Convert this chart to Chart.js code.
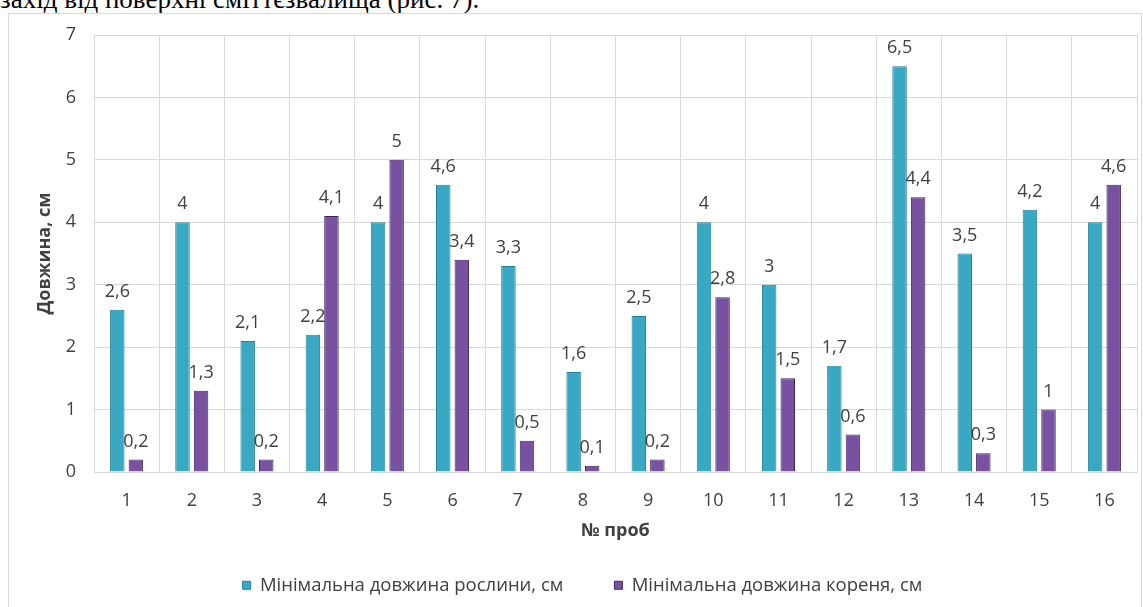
<!DOCTYPE html>
<html>
<head>
<meta charset="utf-8">
<script src="https://cdn.jsdelivr.net/npm/chart.js@4"></script>
<style>
  body { margin: 0; background: #fff; overflow: hidden; width: 1143px; height: 607px; position: relative; }
  .caption { position: absolute; left: 0; top: -14px; font: 27px/27px "Liberation Serif", serif; color: #000; white-space: nowrap; }
  .frame { position: absolute; left: 8px; top: 13px; width: 1132px; height: 620px; border: 1px solid #d9d9d9; }
  .chart-box { position: absolute; left: 9px; top: 14px; width: 1131px; height: 593px; }
</style>
</head>
<body>
<div class="caption">захід від поверхні сміттєзвалища (рис. 7).</div>
<div class="frame"></div>
<div class="chart-box"><canvas id="chart"></canvas></div>
<script>
// samples
const samples = ['1','2','3','4','5','6','7','8','9','10','11','12','13','14','15','16'];

// min plant length, cm
const plantLen = [2.6, 4, 2.1, 2.2, 4, 4.6, 3.3, 1.6, 2.5, 4, 3, 1.7, 6.5, 3.5, 4.2, 4];

// min root length, cm
const rootLen = [0.2, 1.3, 0.2, 4.1, 5, 3.4, 0.5, 0.1, 0.2, 2.8, 1.5, 0.6, 4.4, 0.3, 1, 4.6];

const FONT = '"Open Sans", sans-serif';
const TEXT = '#404040';

// value labels above bars, comma decimals
const barLabels = {
    id: 'barLabels',
    afterDatasetsDraw(chart) {
        const ctx = chart.ctx;
        ctx.save();
        ctx.font = '18px ' + FONT;
        ctx.fillStyle = TEXT;
        ctx.textAlign = 'center';
        ctx.textBaseline = 'middle';
        chart.data.datasets.forEach((ds, i) => {
            chart.getDatasetMeta(i).data.forEach((bar, j) => {
                const txt = String(ds.data[j]).replace('.', ',');
                ctx.fillText(txt, bar.x, bar.y - 18);
            });
        });
        ctx.restore();
    }
};

// legend is wide spaced, so move it into its spot after layout
const legendSpot = {
    id: 'legendSpot',
    afterLayout(chart) {
        const lg = chart.legend;
        lg.top = 511;
        lg.bottom = chart.height;
        lg.left = 19;
    }
};

new Chart(document.getElementById('chart'), {
    type: 'bar',
    data: {
        labels: samples,
        datasets: [
            {
                label: 'Мінімальна довжина рослини, см',
                data: plantLen,
                backgroundColor: '#39a8c3',
                borderColor: '#237f96',
                borderWidth: 1
            },
            {
                label: 'Мінімальна довжина кореня, см',
                data: rootLen,
                backgroundColor: '#7852a0',
                borderColor: '#3e2560',
                borderWidth: 1
            }
        ]
    },
    options: {
        responsive: true,
        maintainAspectRatio: false,
        animation: false,
        categoryPercentage: 0.57,
        barPercentage: 0.78,
        layout: { padding: { top: 21, right: 3, bottom: 0, left: 0 } },
        scales: {
            x: {
                grid: { color: '#d9d9d9', drawTicks: false },
                border: { color: '#d9d9d9' },
                ticks: { color: TEXT, font: { family: FONT, size: 18 }, padding: 18 },
                title: {
                    display: true,
                    text: '№ проб',
                    color: TEXT,
                    font: { family: FONT, size: 18, weight: 'bold' },
                    padding: 0
                },
                afterFit(scale) { scale.height = 70; }
            },
            y: {
                min: 0,
                max: 7,
                grid: { color: '#d9d9d9', drawTicks: false },
                border: { display: false },
                ticks: { stepSize: 1, color: TEXT, font: { family: FONT, size: 18 }, padding: 18 },
                title: {
                    display: true,
                    text: 'Довжина, см',
                    color: TEXT,
                    font: { family: FONT, size: 18, weight: 'bold' },
                    padding: { top: 25, bottom: 0 }
                },
                afterFit(scale) {
                    scale.width = 85;
                    scale.paddingTop = 0;
                    scale.paddingBottom = 0;
                }
            }
        },
        plugins: {
            legend: {
                position: 'bottom',
                maxHeight: 65,
                labels: {
                    color: TEXT,
                    font: { family: FONT, size: 18.5 },
                    boxWidth: 8,
                    boxHeight: 8,
                    padding: 51
                }
            },
            tooltip: { enabled: false }
        }
    },
    plugins: [barLabels, legendSpot]
});
</script>
</body>
</html>
